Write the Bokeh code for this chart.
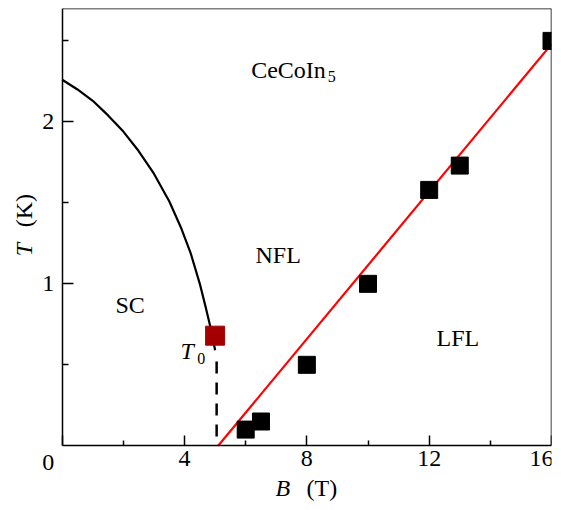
import math
from bokeh.plotting import figure
from bokeh.models import Range1d, FixedTicker, Label, LinearAxis
from bokeh.embed import file_html
from bokeh.resources import INLINE

# ---- data ----
data_B = [6, 6.5, 8, 10, 12, 13, 16]
data_T = [0.10, 0.15, 0.50, 1.00, 1.58, 1.73, 2.50]
t0_B = [5.0]
t0_T = [0.68]
sc_B = [0, 0.5, 1.0, 1.5, 2.0, 2.5, 3.0, 3.5, 3.9, 4.2, 4.5, 4.7, 4.85, 4.95, 5.0]
sc_T = [2.26, 2.20, 2.13, 2.04, 1.94, 1.82, 1.68, 1.51, 1.34, 1.19, 1.0, 0.85, 0.73, 0.64, 0.59]
dash_B = [5.05, 5.05]
dash_T = [0.52, 0.0]
fit_B = [5.1, 16.0]
fit_T = [0.0, 2.48]
x_ticks = [0, 4, 8, 12, 16]
x_minor = [2, 6, 10, 14]
y_ticks = [1, 2]
y_minor = [0.5, 1.5, 2.5]

FONT = "Liberation Serif"
FS = "24px"

p = figure(width=553, height=502,
           x_range=Range1d(-2.0176, 16), y_range=Range1d(-0.3501, 2.7),
           output_backend="svg", toolbar_location=None,
           min_border_left=0, min_border_right=2, min_border_top=8, min_border_bottom=0)
p.xgrid.visible = False
p.ygrid.visible = False
p.outline_line_color = None
p.background_fill_color = "white"
p.border_fill_color = "white"

def style_axis(ax):
    ax.axis_line_color = "black"
    ax.axis_line_width = 1.5
    ax.major_tick_line_color = "black"
    ax.minor_tick_line_color = "black"
    ax.major_tick_line_width = 1.5
    ax.minor_tick_line_width = 1.5
    ax.major_tick_out = 0
    ax.minor_tick_out = 0
    ax.major_label_text_font = FONT
    ax.major_label_text_font_size = FS
    ax.major_label_text_color = "black"

xa = p.xaxis[0]
ya = p.yaxis[0]
style_axis(xa)
style_axis(ya)

xa.fixed_location = 0
xa.bounds = (0, 16)
xa.ticker = FixedTicker(ticks=x_ticks, minor_ticks=x_minor)
xa.major_tick_in = 10
xa.minor_tick_in = 5
xa.major_label_standoff = 5
xa.major_label_overrides = {0: ""}

ya.fixed_location = 0
ya.bounds = (0, 2.7)
ya.ticker = FixedTicker(ticks=y_ticks, minor_ticks=y_minor)
ya.major_tick_in = 11
ya.minor_tick_in = 6
ya.major_label_standoff = 8

# frame box: top and right sides as tick-less axes
top = LinearAxis(fixed_location=2.7, bounds=(0, 16), ticker=FixedTicker(ticks=[]))
right = LinearAxis(fixed_location=16, bounds=(0, 2.7), ticker=FixedTicker(ticks=[]))
for ax in (top, right):
    ax.axis_line_color = "black"
    ax.axis_line_width = 1.5
    ax.major_tick_line_color = None
    ax.minor_tick_line_color = None
    ax.major_label_text_font_size = "0px"
p.add_layout(top, "above")
p.add_layout(right, "right")

# curves
p.line(sc_B, sc_T, line_color="black", line_width=2.2)
p.line(dash_B, dash_T, line_color="black", line_width=2.5, line_dash="12 9")
p.line(fit_B, fit_T, line_color="#ff0000", line_width=2.2)

# points
p.scatter(data_B, data_T, marker="square", size=17, fill_color="black", line_color="black")
p.scatter(t0_B, t0_T, marker="square", size=19, fill_color="#a30000", line_color="#a30000")

def lab(x, y, text, size=FS, style="normal", align="left", angle=0.0, xo=0, yo=9):
    p.add_layout(Label(x=x, y=y, text=text, text_font=FONT, text_font_size=size,
                       text_font_style=style, text_align=align, text_baseline="alphabetic",
                       text_color="black", angle=angle, x_offset=xo, y_offset=yo))

# annotations
lab(6.18, 2.267, "CeCoIn")
lab(8.68, 2.226, "5", size="16px")
lab(6.32, 1.124, "NFL")
lab(1.74, 0.811, "SC")
lab(12.24, 0.609, "LFL")
lab(3.87, 0.527, "T", style="italic")
lab(4.42, 0.484, "0", size="16px")

# origin label and axis titles
lab(-0.46, -0.157, "0", align="center")
lab(6.975, -0.319, "B", style="italic")
lab(7.99, -0.319, "(T)")
lab(-0.94, 1.170, "T", style="italic", angle=math.pi / 2, xo=-9, yo=0)
lab(-0.94, 1.349, "(K)", angle=math.pi / 2, xo=-9, yo=0)

open("out.html", "w").write(file_html(p, INLINE))
